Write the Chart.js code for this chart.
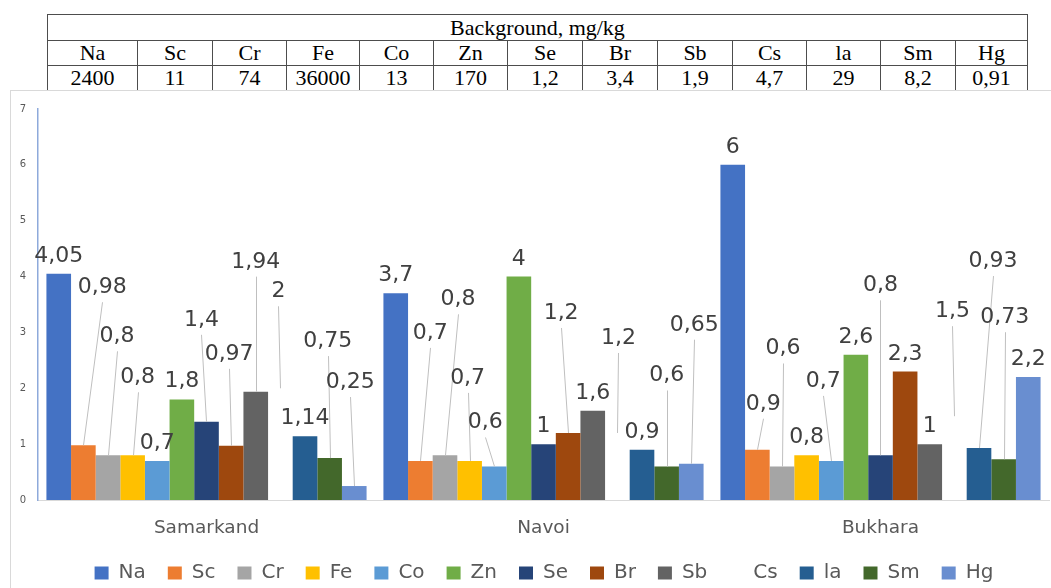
<!DOCTYPE html>
<html>
<head>
<meta charset="utf-8">
<script src="https://cdn.jsdelivr.net/npm/chart.js@4.4.1/dist/chart.umd.min.js"></script>
<style>
  html, body { margin: 0; padding: 0; background: #fff; width: 1051px; height: 588px; overflow: hidden; }
  #bg { position: absolute; left: 47px; top: 14px; border-collapse: collapse; table-layout: fixed;
        font-family: "Liberation Serif", "Times New Roman", serif; font-size: 22px; color: #000; }
  #bg td { border: 1px solid #4d4d4d; text-align: center; padding: 0; white-space: nowrap; overflow: hidden; }
  #bg tr.head td { height: 25px; line-height: 25px; }
  #bg tr.row td { height: 24px; line-height: 24px; }
  #panel { position: absolute; left: 10px; top: 90px; width: 1041px; height: 498px; box-sizing: border-box;
           border-left: 1px solid #d9d9d9; border-top: 1px solid #d9d9d9; background: #fff; }
  #chart { position: absolute; left: 0; top: 0; }
</style>
</head>
<body>
<table id="bg"></table>
<div id="panel"><canvas id="chart" width="1040" height="497"></canvas></div>
<script>
// Sampling sites
const cities = ['Samarkand', 'Navoi', 'Bukhara'];

// Elements and their background levels, mg/kg
const elements = ['Na', 'Sc', 'Cr', 'Fe', 'Co', 'Zn', 'Se', 'Br', 'Sb', 'Cs', 'la', 'Sm', 'Hg'];
const background = ['2400', '11', '74', '36000', '13', '170', '1,2', '3,4', '1,9', '4,7', '29', '8,2', '0,91'];

// Concentration ratios per site (Samarkand, Navoi, Bukhara)
const Na = [4.05, 3.7, 6];
const Sc = [0.98, 0.7, 0.9];
const Cr = [0.8, 0.8, 0.6];
const Fe = [0.8, 0.7, 0.8];
const Co = [0.7, 0.6, 0.7];
const Zn = [1.8, 4, 2.6];
const Se = [1.4, 1, 0.8];
const Br = [0.97, 1.2, 2.3];
const Sb = [1.94, 1.6, 1];
const Cs = [2, 1.2, 1.5];
const La = [1.14, 0.9, 0.93];
const Sm = [0.75, 0.6, 0.73];
const Hg = [0.25, 0.65, 2.2];

const yTicks = [0, 1, 2, 3, 4, 5, 6, 7];

// Series colours; Cs is left unfilled
const colors = ['#4472C4', '#ED7D31', '#A5A5A5', '#FFC000', '#5B9BD5', '#70AD47', '#264478',
                '#9E480E', '#636363', 'rgba(0,0,0,0)', '#255E91', '#43682B', '#698ED0'];

// Value-label placement relative to each bar top [dx, dy]; far labels get a leader line
const labelNudge = [
  [[0, -20], [0, -20], [0, -20]],
  [[19, -160], [10, -130], [6, -48]],
  [[9, -121], [13, -158], [1, -120]],
  [[5, -80], [-2, -85], [0, -20]],
  [[0, -20], [-9, -46], [-8, -82]],
  [[0, -20], [0, -20], [0, -20]],
  [[-5, -104], [0, -20], [0, -172]],
  [[-2, -94], [-7, -122], [0, -20]],
  [[0, -132], [0, -20], [0, -20]],
  [[-2, -99], [1, -97], [-2, -107]],
  [[0, -20], [0, -20], [14, -189]],
  [[-2, -119], [0, -93], [1, -144]],
  [[-4, -106], [3, -141], [0, -20]]
];

// Background table
(function buildTable() {
  const t = document.getElementById('bg');
  const widths = [90, 75, 74, 73, 74, 74, 75, 75, 75, 74, 74, 75, 72];
  let html = '<colgroup>' + widths.map(w => '<col style="width:' + w + 'px">').join('') + '</colgroup>';
  html += '<tr class="head"><td colspan="' + elements.length + '">Background, mg/kg</td></tr>';
  html += '<tr class="row">' + elements.map(e => '<td>' + e + '</td>').join('') + '</tr>';
  html += '<tr class="row">' + background.map(v => '<td>' + v + '</td>').join('') + '</tr>';
  t.innerHTML = html;
})();

const series = [Na, Sc, Cr, Fe, Co, Zn, Se, Br, Sb, Cs, La, Sm, Hg];

const fmt = v => String(v).replace('.', ',');

// Value labels, with thin leader lines for the ones lifted away from their bars
const leaderLabels = {
  id: 'leaderLabels',
  afterDatasetsDraw(chart) {
    const ctx = chart.ctx;
    ctx.save();
    ctx.font = '22px "DejaVu Sans"';
    ctx.fillStyle = '#404040';
    ctx.textAlign = 'center';
    ctx.textBaseline = 'alphabetic';
    chart.data.datasets.forEach((ds, i) => {
      const meta = chart.getDatasetMeta(i);
      meta.data.forEach((bar, j) => {
        const [dx, dy] = labelNudge[i][j];
        const cx = bar.x + dx, cy = bar.y + dy;
        if (dy < -30) {
          ctx.strokeStyle = '#bfbfbf';
          ctx.lineWidth = 1;
          ctx.beginPath();
          ctx.moveTo(Math.round(cx) + 0.5, cy + 17);
          ctx.lineTo(Math.round(bar.x) + 0.5, bar.y);
          ctx.stroke();
        }
        ctx.fillText(fmt(ds.data[j]), cx, cy + 8);
      });
    });
    ctx.restore();
  }
};

// Nudge the legend row slightly right and down from its default centred spot
const legendShift = {
  id: 'legendShift',
  afterLayout(chart) {
    const lg = chart.legend;
    if (!lg) return;
    lg.left += 14; lg.right += 14;
    lg.top += 5; lg.bottom += 5;
  }
};

new Chart(document.getElementById('chart'), {
  type: 'bar',
  data: {
    labels: cities,
    datasets: elements.map((name, i) => ({
      label: name,
      data: series[i],
      backgroundColor: colors[i],
      borderWidth: 0,
      categoryPercentage: 0.95,
      barPercentage: 1.0
    }))
  },
  options: {
    responsive: false,
    devicePixelRatio: 1,
    animation: false,
    layout: { padding: { top: 13, right: 2, left: 0, bottom: 0 } },
    scales: {
      x: {
        grid: { display: false, drawTicks: false },
        border: { display: true, color: '#d9d9d9', width: 1 },
        ticks: { color: '#595959', font: { family: 'DejaVu Sans', size: 18.5 }, padding: 17 },
        afterFit: s => { s.height = 36; }
      },
      y: {
        min: yTicks[0],
        max: yTicks[yTicks.length - 1],
        grid: { display: false, drawTicks: false },
        border: { display: true, color: '#8eaadb', width: 1.5 },
        afterBuildTicks: s => { s.ticks = yTicks.map(v => ({ value: v })); },
        ticks: { color: '#595959', font: { family: 'DejaVu Sans', size: 10 }, padding: 12 },
        afterFit: s => { s.width = 27; }
      }
    },
    plugins: {
      legend: {
        position: 'bottom',
        labels: {
          color: '#595959',
          font: { family: 'DejaVu Sans', size: 20 },
          boxWidth: 14,
          boxHeight: 13,
          padding: 22
        }
      },
      tooltip: { enabled: false }
    }
  },
  plugins: [leaderLabels, legendShift]
});
</script>
</body>
</html>
